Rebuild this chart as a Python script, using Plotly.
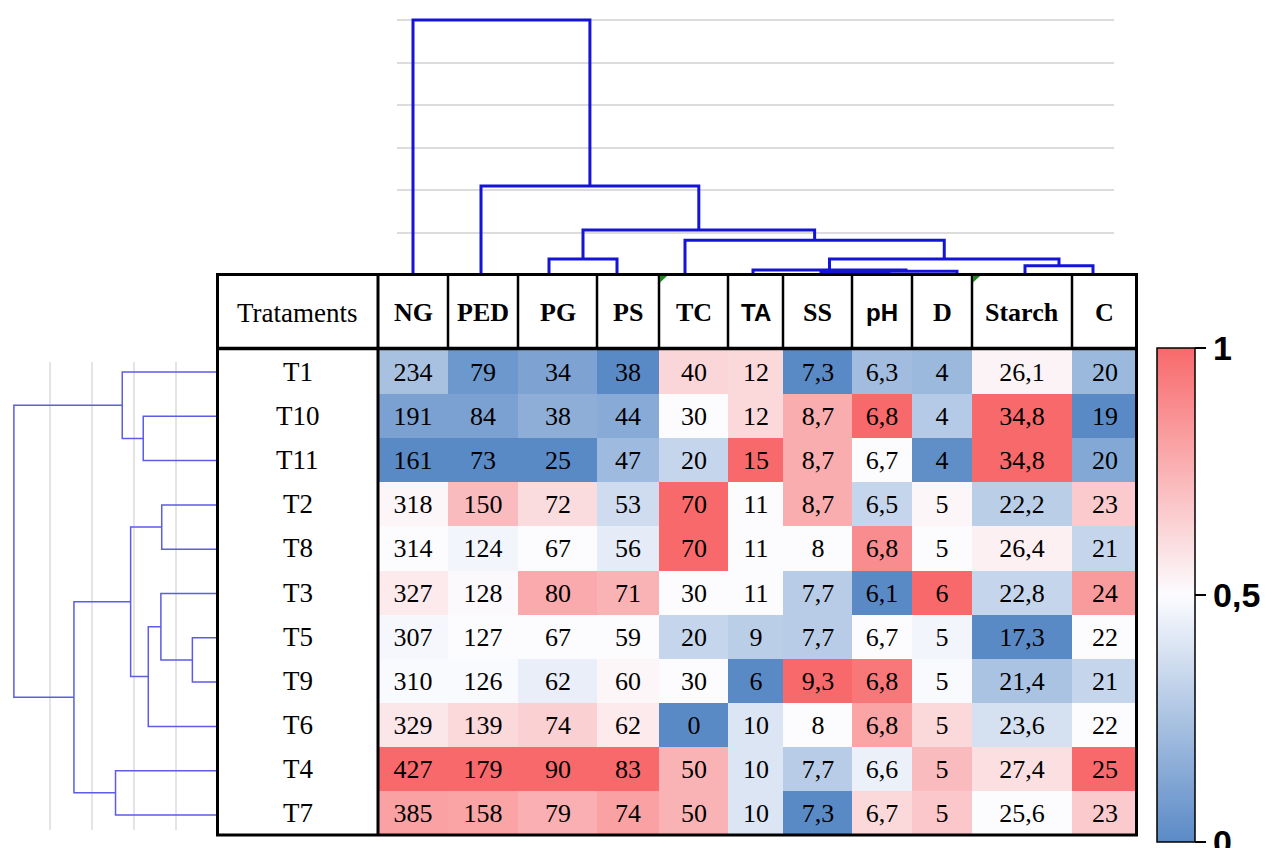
import plotly.graph_objects as go

# ---------------- data ----------------
ROWS = ["T1", "T10", "T11", "T2", "T8", "T3", "T5", "T9", "T6", "T4", "T7"]
COLS = ["NG", "PED", "PG", "PS", "TC", "TA", "SS", "pH", "D", "Starch", "C"]
FIRST_HEADER = "Trataments"

NG = [234, 191, 161, 318, 314, 327, 307, 310, 329, 427, 385]
PED = [79, 84, 73, 150, 124, 128, 127, 126, 139, 179, 158]
PG = [34, 38, 25, 72, 67, 80, 67, 62, 74, 90, 79]
PS = [38, 44, 47, 53, 56, 71, 59, 60, 62, 83, 74]
TC = [40, 30, 20, 70, 70, 30, 20, 30, 0, 50, 50]
TA = [12, 12, 15, 11, 11, 11, 9, 6, 10, 10, 10]
SS = [7.3, 8.7, 8.7, 8.7, 8, 7.7, 7.7, 9.3, 8, 7.7, 7.3]
PH = [6.3, 6.8, 6.7, 6.5, 6.8, 6.1, 6.7, 6.8, 6.8, 6.6, 6.7]
D = [4, 4, 4, 5, 5, 6, 5, 5, 5, 5, 5]
STARCH = [26.1, 34.8, 34.8, 22.2, 26.4, 22.8, 17.3, 21.4, 23.6, 27.4, 25.6]
C = [20, 19, 20, 23, 21, 24, 22, 21, 22, 25, 23]
VALUES = [NG, PED, PG, PS, TC, TA, SS, PH, D, STARCH, C]

# colour-scale level of every cell (0 = blue, 0.5 = white, 1 = red)
LEVEL_T1 = [0.24, 0.06, 0.11, 0.00, 0.63, 0.62, 0.00, 0.22, 0.20, 0.53, 0.20]
LEVEL_T10 = [0.10, 0.10, 0.16, 0.14, 0.50, 0.62, 0.77, 1.00, 0.28, 1.00, 0.00]
LEVEL_T11 = [0.00, 0.00, 0.00, 0.21, 0.33, 1.00, 0.77, 0.50, 0.02, 1.00, 0.13]
LEVEL_T2 = [0.52, 0.72, 0.61, 0.36, 1.00, 0.50, 0.77, 0.33, 0.52, 0.30, 0.67]
LEVEL_T8 = [0.50, 0.47, 0.50, 0.43, 1.00, 0.50, 0.50, 0.88, 0.50, 0.54, 0.33]
LEVEL_T3 = [0.56, 0.51, 0.78, 0.75, 0.50, 0.50, 0.29, 0.00, 1.00, 0.33, 0.83]
LEVEL_T5 = [0.48, 0.50, 0.50, 0.50, 0.33, 0.30, 0.29, 0.50, 0.47, 0.00, 0.50]
LEVEL_T9 = [0.49, 0.49, 0.44, 0.52, 0.50, 0.00, 1.00, 0.95, 0.49, 0.25, 0.33]
LEVEL_T6 = [0.57, 0.62, 0.65, 0.56, 0.00, 0.40, 0.50, 0.80, 0.62, 0.38, 0.50]
LEVEL_T4 = [1.00, 1.00, 1.00, 1.00, 0.75, 0.40, 0.29, 0.45, 0.72, 0.60, 1.00]
LEVEL_T7 = [0.81, 0.80, 0.76, 0.81, 0.75, 0.40, 0.00, 0.62, 0.68, 0.50, 0.67]
LEVELS = [LEVEL_T1, LEVEL_T10, LEVEL_T11, LEVEL_T2, LEVEL_T8, LEVEL_T3,
          LEVEL_T5, LEVEL_T9, LEVEL_T6, LEVEL_T4, LEVEL_T7]

# dendrograms: (child, child, height); ints refer to earlier merges
TOP_LINKAGE = [("SS", "pH", 0.08), (0, "D", 0.10), ("TA", 1, 0.13), ("Starch", "C", 0.23),
               (2, 3, 0.39), ("PG", "PS", 0.39), ("TC", 4, 0.83), (5, 6, 1.07),
               ("PED", 7, 2.10), ("NG", 8, 6.0)]
LEFT_LINKAGE = [("T5", "T9", 0.61), ("T10", "T11", 1.78), ("T2", "T8", 1.34), ("T3", 0, 1.36),
                (3, "T6", 1.66), (2, 4, 2.08), ("T1", 1, 2.28), ("T4", "T7", 2.44),
                (5, 7, 3.43), (6, 8, 4.86)]

COLORBAR_TICKS = [0, 0.5, 1]
COLORBAR_LABELS = ["0", "0,5", "1"]

# ---------------- layout constants (pixels) ----------------
W, H = 1277, 848
TABLE_LEFT, TABLE_RIGHT, TABLE_TOP, TABLE_BOTTOM = 217.5, 1136.5, 274.5, 835.0
HEADER_BOTTOM = 348.5
COL_EDGES = [378, 448, 518, 597, 659, 728, 783, 852, 912, 972, 1072, 1137]
BODY_TOP, ROW_H = 350.0, 44.1
ROW_EDGES = [BODY_TOP + ROW_H * i for i in range(len(ROWS) + 1)]
SANS_HEADERS = {"TA", "pH"}
SERIF = "Liberation Serif"
SANS = "Liberation Sans"


def fmt(v):
    return f"{v:g}".replace(".", ",")


def dendro_segments(linkage, leaves):
    pos = {name: float(i) for i, name in enumerate(leaves)}
    merge_pos, merge_h = [], []
    P, Hh = [], []
    for a, b, h in linkage:
        pa = merge_pos[a] if isinstance(a, int) else pos[a]
        pb = merge_pos[b] if isinstance(b, int) else pos[b]
        ha = merge_h[a] if isinstance(a, int) else 0.0
        hb = merge_h[b] if isinstance(b, int) else 0.0
        P += [pa, pa, pb, pb, None]
        Hh += [ha, h, h, hb, None]
        merge_pos.append((pa + pb) / 2)
        merge_h.append(h)
    return P, Hh


def px_x(v):
    return v / W


def px_y(v):
    return 1 - v / H


fig = go.Figure()

# ---------------- heatmap table body ----------------
z = LEVELS
text = [[fmt(VALUES[j][i]) for j in range(len(COLS))] for i in range(len(ROWS))]
fig.add_trace(go.Heatmap(
    x=COL_EDGES, y=ROW_EDGES, z=z, text=text, texttemplate="%{text}",
    textfont=dict(family=SERIF, size=26, color="black"),
    zmin=0, zmax=1,
    colorscale=[[0, "#5A8AC6"], [0.5, "#FCFCFF"], [1, "#F8696B"]],
    hoverinfo="skip",
    colorbar=dict(
        thickness=38, thicknessmode="pixels", len=494, lenmode="pixels",
        x=px_x(1157), xanchor="left", y=px_y(348), yanchor="top",
        xpad=0, ypad=0, outlinewidth=1.5, outlinecolor="black",
        tickvals=COLORBAR_TICKS, ticktext=COLORBAR_LABELS,
        ticks="outside", ticklen=11, tickwidth=2, tickcolor="black",
        ticklabeloverflow="allow",
        tickfont=dict(family=SANS, size=34, color="black", weight="bold"),
    ),
    xaxis="x", yaxis="y",
))

# ---------------- top dendrogram ----------------
tp, th = dendro_segments(TOP_LINKAGE, COLS)
fig.add_trace(go.Scatter(x=tp, y=th, mode="lines", line=dict(color="#1414d6", width=3),
                         hoverinfo="skip", showlegend=False, xaxis="x2", yaxis="y2"))

# ---------------- left dendrogram ----------------
lp, lh = dendro_segments(LEFT_LINKAGE, ROWS)
fig.add_trace(go.Scatter(x=lh, y=lp, mode="lines", line=dict(color="#5c5ce6", width=1.5),
                         hoverinfo="skip", showlegend=False, xaxis="x3", yaxis="y3"))

# ---------------- annotations ----------------
ann = []
header_mid = (TABLE_TOP + HEADER_BOTTOM) / 2 + 1
ann.append(dict(x=(TABLE_LEFT + COL_EDGES[0]) / 2, y=header_mid, text=FIRST_HEADER,
                font=dict(family=SERIF, size=27, color="black")))
for j, name in enumerate(COLS):
    fam = SANS if name in SANS_HEADERS else SERIF
    size = 24 if name in SANS_HEADERS else 26
    ann.append(dict(x=(COL_EDGES[j] + COL_EDGES[j + 1]) / 2, y=header_mid, text=name,
                    font=dict(family=fam, size=size, color="black", weight="bold")))
for i, name in enumerate(ROWS):
    ann.append(dict(x=(TABLE_LEFT + COL_EDGES[0]) / 2, y=(ROW_EDGES[i] + ROW_EDGES[i + 1]) / 2,
                    text=name, font=dict(family=SERIF, size=27, color="black")))
for a in ann:
    a.update(xref="x", yref="y", showarrow=False, xanchor="center", yanchor="middle")

# ---------------- shapes (table lines) ----------------
shapes = []
blk = "black"
for xe in COL_EDGES[1:-1]:
    shapes.append(dict(type="line", x0=xe, x1=xe, y0=TABLE_TOP, y1=HEADER_BOTTOM,
                       line=dict(color=blk, width=2.5)))
shapes.append(dict(type="line", x0=TABLE_LEFT, x1=TABLE_RIGHT, y0=HEADER_BOTTOM, y1=HEADER_BOTTOM,
                   line=dict(color=blk, width=3.5)))
shapes.append(dict(type="line", x0=COL_EDGES[0], x1=COL_EDGES[0], y0=TABLE_TOP, y1=TABLE_BOTTOM,
                   line=dict(color=blk, width=3)))
shapes.append(dict(type="rect", x0=TABLE_LEFT, x1=TABLE_RIGHT, y0=TABLE_TOP, y1=TABLE_BOTTOM,
                   line=dict(color=blk, width=3)))
for xe in (COL_EDGES[4], COL_EDGES[9]):
    shapes.append(dict(type="path",
                       path=f"M {xe + 1},{TABLE_TOP + 1.5} L {xe + 8},{TABLE_TOP + 1.5} L {xe + 1},{TABLE_TOP + 8} Z",
                       fillcolor="#1a8a1a", line=dict(width=0)))
for s in shapes:
    s.update(xref="x", yref="y", layer="above")

# ---------------- axes ----------------
hidden = dict(visible=False, fixedrange=True)
TOP_LEAF0, TOP_STEP = 413.0, 68.0
TOP_X0, TOP_X1 = 397.0, 1114.0
TOP_BASE, TOP_UNIT, TOP_MAX = 275.5, 42.6, 6.3
LEFT_BASE, LEFT_UNIT, LEFT_X0 = 218.0, 42.0, 10.0
LEFT_LEAF0, LEFT_STEP, LEFT_Y0, LEFT_Y1 = 372.0, 44.3, 362.0, 830.0

fig.update_layout(
    width=W, height=H, margin=dict(l=0, r=0, t=0, b=0),
    paper_bgcolor="white", plot_bgcolor="rgba(0,0,0,0)", showlegend=False,
    xaxis=dict(domain=[0, 1], range=[0, W], **hidden),
    yaxis=dict(domain=[0, 1], range=[H, 0], **hidden),
    xaxis2=dict(domain=[px_x(TOP_X0), px_x(TOP_X1)], anchor="y2",
                range=[(TOP_X0 - TOP_LEAF0) / TOP_STEP, (TOP_X1 - TOP_LEAF0) / TOP_STEP],
                showgrid=False, zeroline=False, showticklabels=False, ticks="", fixedrange=True,
                showline=False),
    yaxis2=dict(domain=[px_y(TOP_BASE), px_y(TOP_BASE - TOP_UNIT * TOP_MAX)], anchor="x2",
                range=[0, TOP_MAX], tickvals=[1, 2, 3, 4, 5, 6], showgrid=True,
                gridcolor="#dcdcdc", gridwidth=1.5, zeroline=False, showticklabels=False,
                ticks="", fixedrange=True, showline=False),
    xaxis3=dict(domain=[px_x(LEFT_X0), px_x(LEFT_BASE)], anchor="y3",
                range=[(LEFT_BASE - LEFT_X0) / LEFT_UNIT, 0], tickvals=[1, 2, 3, 4],
                showgrid=True, gridcolor="#e4e4e4", gridwidth=1.5, zeroline=False,
                showticklabels=False, ticks="", fixedrange=True, showline=False),
    yaxis3=dict(domain=[px_y(LEFT_Y1), px_y(LEFT_Y0)], anchor="x3",
                range=[(LEFT_Y1 - LEFT_LEAF0) / LEFT_STEP, (LEFT_Y0 - LEFT_LEAF0) / LEFT_STEP],
                showgrid=False, zeroline=False, showticklabels=False, ticks="",
                fixedrange=True, showline=False),
    annotations=ann, shapes=shapes,
)

fig.write_html("out.html", config={"displayModeBar": False},
               post_script="document.body.style.margin='0';")
